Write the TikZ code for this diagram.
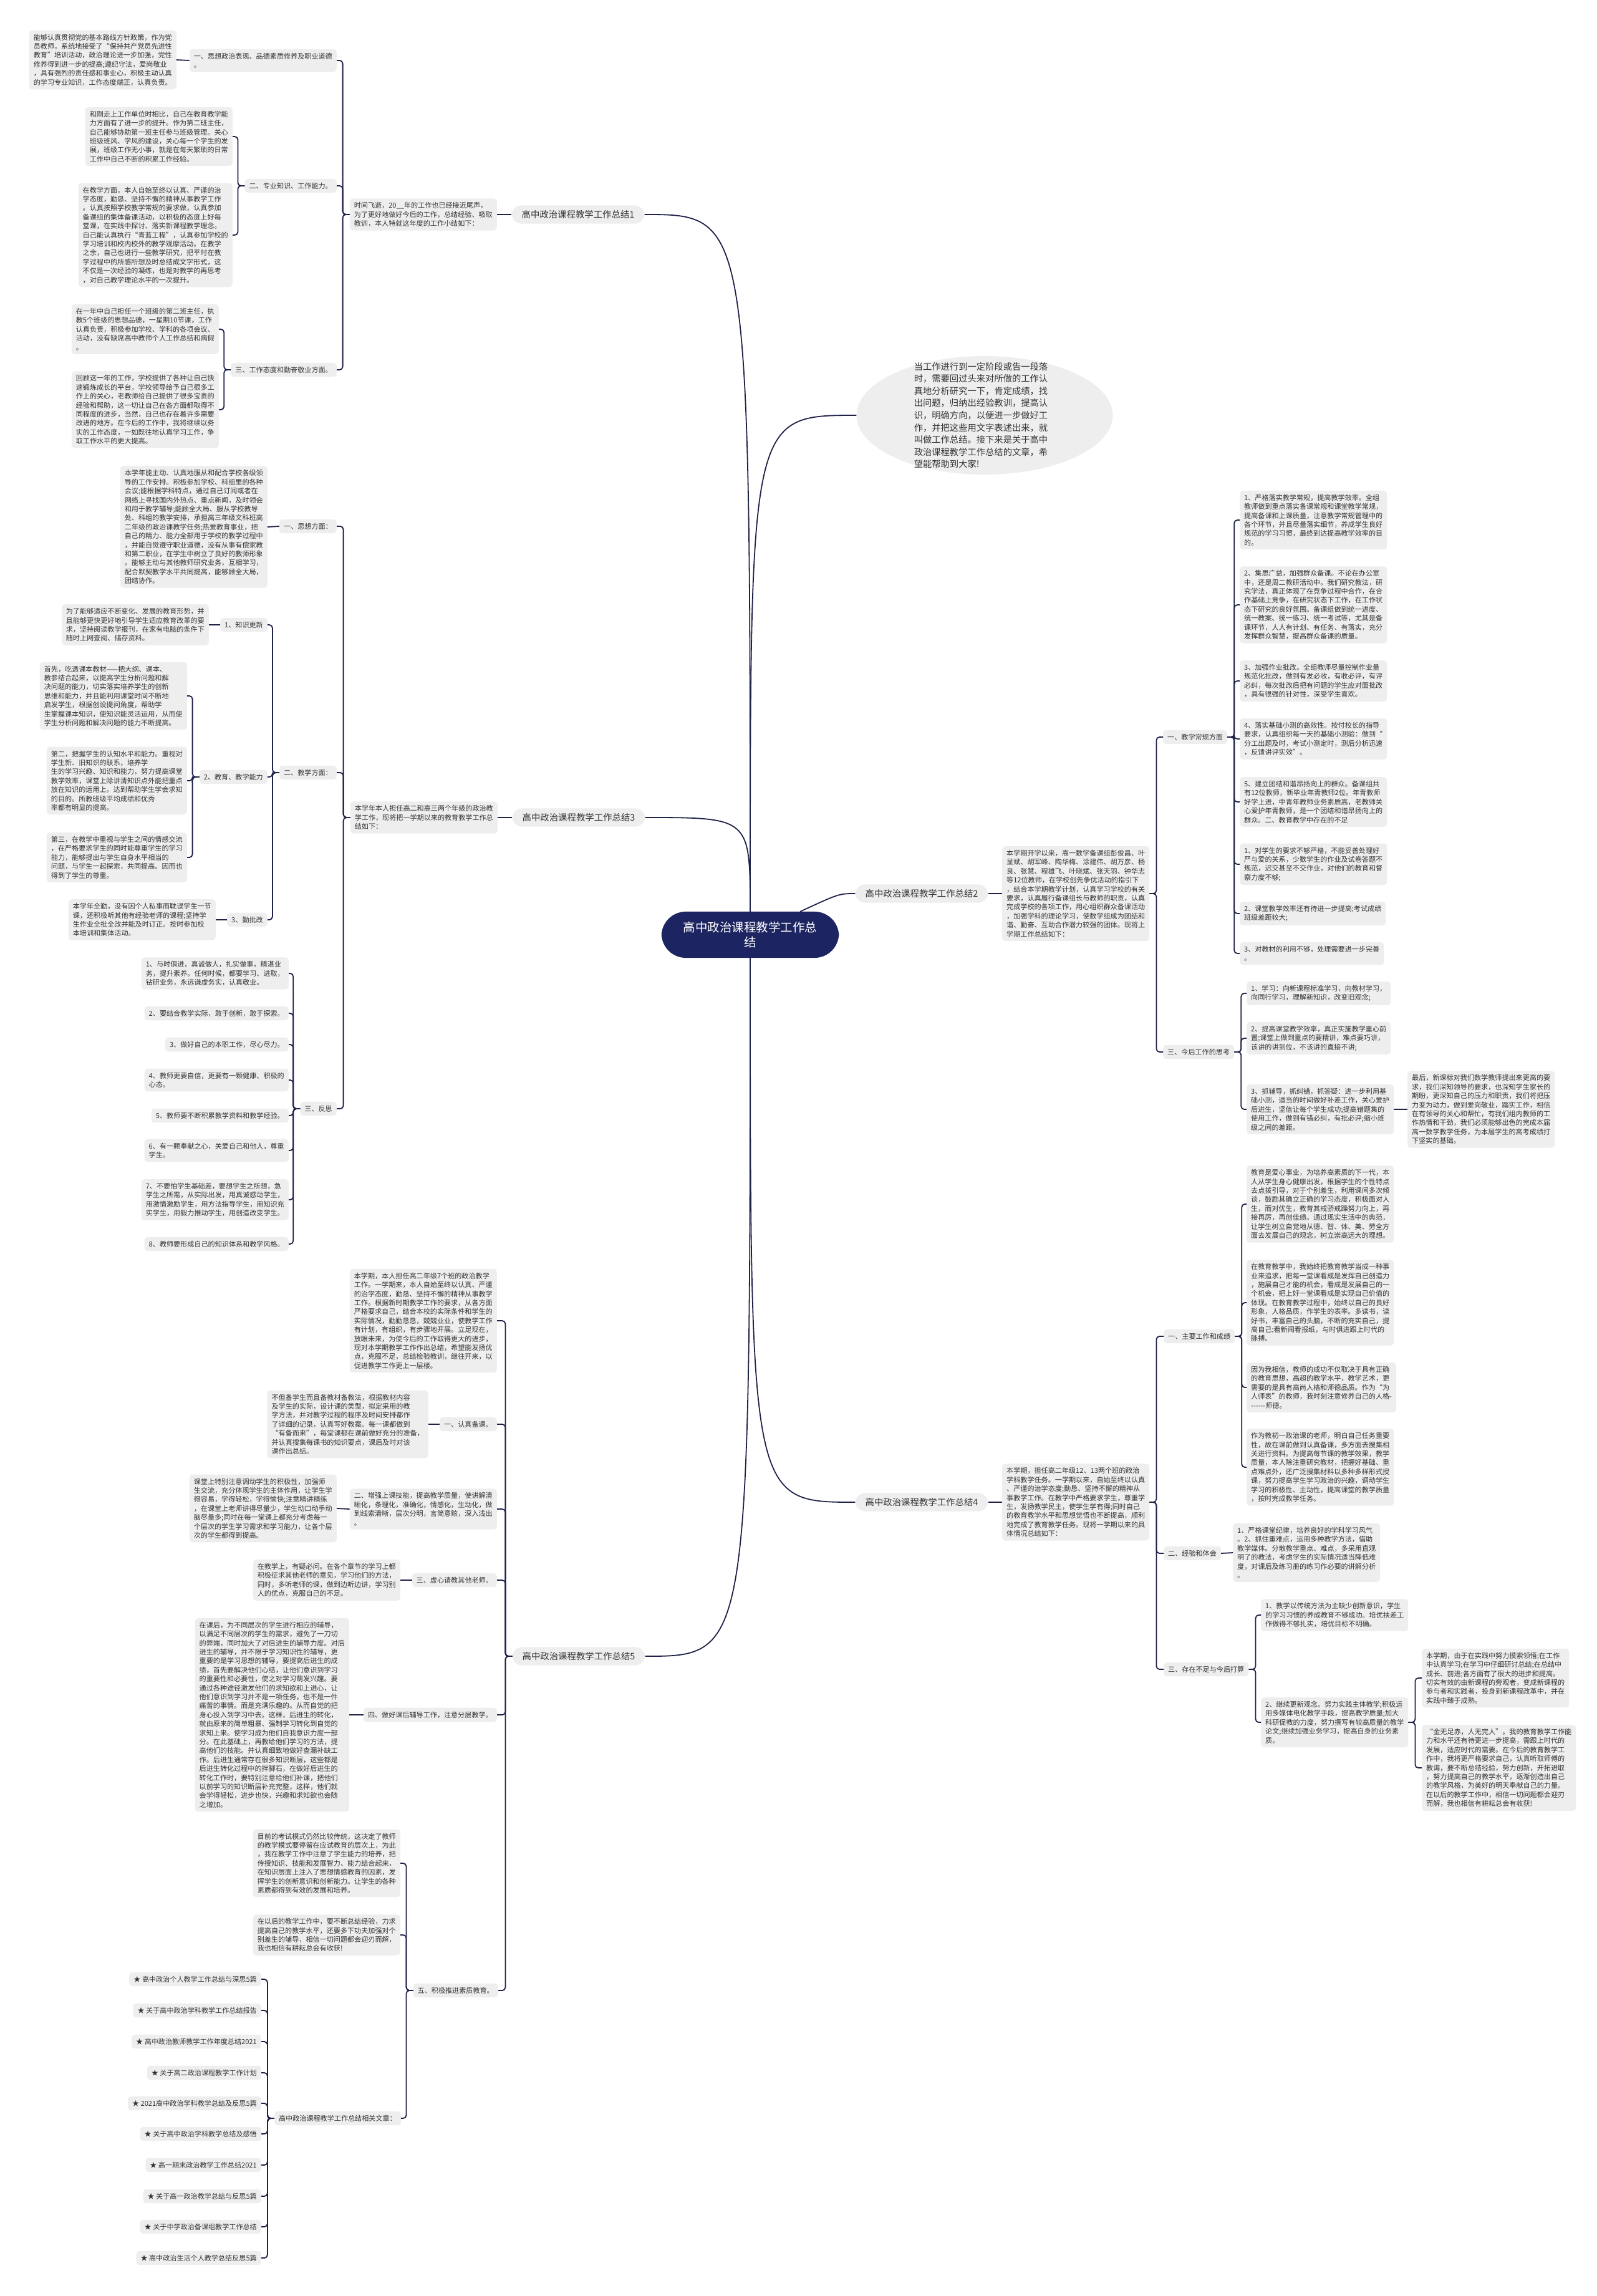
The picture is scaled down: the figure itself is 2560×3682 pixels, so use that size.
\documentclass[tikz,border=0pt]{standalone}
\usepackage{fontspec}
\setmainfont{Noto Sans CJK SC}
\usetikzlibrary{backgrounds, shapes.geometric}

\definecolor{boxgray}{HTML}{EEEEEE}
\definecolor{inkgray}{HTML}{333333}
\definecolor{navy}{HTML}{1C2461}
\definecolor{linecol}{HTML}{1E2148}

\newcommand\leaffont{\fontsize{11.1pt}{14.4pt}\selectfont}
\newcommand\branchfont{\fontsize{14.4pt}{17pt}\selectfont}
\newcommand\introfont{\fontsize{14.3pt}{19.6pt}\selectfont}
\newcommand\rootfont{\fontsize{19.5pt}{24pt}\selectfont}

\begin{document}
\begin{tikzpicture}[x=1pt, y=-1pt,
    leaf/.style={fill=boxgray, rounded corners=5pt, inner xsep=7pt, inner ysep=6pt, align=left, font=\leaffont, text=inkgray},
    leafl/.style={leaf, anchor=east},
    leafr/.style={leaf, anchor=west},
    branch/.style={fill=boxgray, rounded corners=16pt, inner xsep=16pt, inner ysep=8pt, font=\branchfont, text=inkgray},
    rootnode/.style={fill=navy, text=white, rounded corners=39pt, inner xsep=35pt, inner ysep=16pt, align=center, font=\rootfont},
    link/.style={draw=linecol, line width=1.8pt, rounded corners=5pt},
    curve/.style={draw=linecol, line width=1.8pt}]

\fill[white] (0,0) rectangle (2560,3682);
\useasboundingbox (0,0) rectangle (2560,3682);

% root
\node[rootnode] (root) at (1203,1499) {高中政治课程教学工作总\\结};

% intro
\node[fill=boxgray, ellipse, minimum width=411pt, minimum height=190pt, inner sep=0pt] (introbg) at (1579,666) {};
\node[font=\introfont, text=inkgray, align=left] (intro) at (1573,666) {当工作进行到一定阶段或告一段落\\时，需要回过头来对所做的工作认\\真地分析研究一下，肯定成绩，找\\出问题，归纳出经验教训，提高认\\识，明确方向，以便进一步做好工\\作，并把这些用文字表述出来，就\\叫做工作总结。接下来是关于高中\\政治课程教学工作总结的文章，希\\望能帮助到大家!};

% branch nodes
\node[branch] (b1) at (927,344) {高中政治课程教学工作总结1};
\node[branch] (b2) at (1478,1433) {高中政治课程教学工作总结2};
\node[branch] (b3) at (928,1311) {高中政治课程教学工作总结3};
\node[branch] (b4) at (1478,2409) {高中政治课程教学工作总结4};
\node[branch] (b5) at (928,2656) {高中政治课程教学工作总结5};

% ---------- 总结1 ----------
\node[leafl] (s1) at (797,344) {时间飞逝，20\_\_年的工作也已经接近尾声，\\为了更好地做好今后的工作，总结经验、吸取\\教训，本人特就这年度的工作小结如下：};
\node[leafl] (l1a) at (540,97) {一、思想政治表现、品德素质修养及职业道德\\。};
\node[leafl] (t1a) at (283,96) {能够认真贯彻党的基本路线方针政策，作为党\\员教师，系统地接受了“保持共产党员先进性\\教育”培训活动，政治理论进一步加强，党性\\修养得到进一步的提高;遵纪守法，爱岗敬业\\，具有强烈的责任感和事业心，积极主动认真\\的学习专业知识，工作态度端正，认真负责。};
\node[leafl] (l1b) at (540,298) {二、专业知识、工作能力。};
\node[leafl] (t1b1) at (373,219) {和刚走上工作单位时相比，自己在教育教学能\\力方面有了进一步的提升。作为第二班主任，\\自己能够协助第一班主任参与班级管理。关心\\班级班风、学风的建设，关心每一个学生的发\\展，班级工作无小事，就是在每天繁琐的日常\\工作中自己不断的积累工作经验。};
\node[leafl] (t1b2) at (373,377) {在教学方面，本人自始至终以认真、严谨的治\\学态度，勤恳、坚持不懈的精神从事教学工作\\。认真按照学校教学常规的要求做，认真参加\\备课组的集体备课活动，以积极的态度上好每\\堂课，在实践中探讨、落实新课程教学理念。\\自己能认真执行“青蓝工程”，认真参加学校的\\学习培训和校内校外的教学观摩活动。在教学\\之余，自己也进行一些教学研究，把平时在教\\学过程中的所感所想及时总结成文字形式，这\\不仅是一次经验的凝练，也是对教学的再思考\\，对自己教学理论水平的一次提升。};
\node[leafl] (l1c) at (540,593) {三、工作态度和勤奋敬业方面。};
\node[leafl] (t1c1) at (351,528) {在一年中自己担任一个班级的第二班主任，执\\教5个班级的思想品德，一星期10节课，工作\\认真负责，积极参加学校、学科的各项会议、\\活动，没有缺席高中教师个人工作总结和病假\\。};
\node[leafl] (t1c2) at (351,657) {回顾这一年的工作，学校提供了各种让自己快\\速锻炼成长的平台，学校领导给予自己很多工\\作上的关心，老教师给自己提供了很多宝贵的\\经验和帮助，这一切让自己在各方面都取得不\\同程度的进步，当然，自己也存在着许多需要\\改进的地方。在今后的工作中，我将继续以务\\实的工作态度，一如既往地认真学习工作，争\\取工作水平的更大提高。};

\draw[link] (b1.west) -- (s1.east);
\draw[link] (s1.west) -- ++(-11,0) |- (l1a.east);
\draw[link] (s1.west) -- ++(-11,0) |- (l1b.east);
\draw[link] (s1.west) -- ++(-11,0) |- (l1c.east);
\draw[link] (l1a.west) -- (t1a.east);
\draw[link] (l1b.west) -- ++(-11,0) |- (t1b1.east);
\draw[link] (l1b.west) -- ++(-11,0) |- (t1b2.east);
\draw[link] (l1c.west) -- ++(-11,0) |- (t1c1.east);
\draw[link] (l1c.west) -- ++(-11,0) |- (t1c2.east);

% ---------- 总结3 ----------
\node[leafl] (s3) at (798,1311) {本学年本人担任高二和高三两个年级的政治教\\学工作，现将把一学期以来的教育教学工作总\\结如下：};
\node[leafl] (l3a) at (540,844) {一、思想方面：};
\node[leafl] (t3a) at (429,845) {本学年能主动、认真地服从和配合学校各级领\\导的工作安排。积极参加学校、科组里的各种\\会议;能根据学科特点，通过自己订阅或者在\\网络上寻找国内外热点、重点新闻，及时领会\\和用于教学辅导;能顾全大局、服从学校教导\\处、科组的教学安排，承担高三年级文科班高\\二年级的政治课教学任务;热爱教育事业，把\\自己的精力、能力全部用于学校的教学过程中\\，并能自觉遵守职业道德，没有从事有偿家教\\和第二职业，在学生中树立了良好的教师形象\\。能够主动与其他教师研究业务，互相学习，\\配合默契教学水平共同提高，能够顾全大局，\\团结协作。};
\node[leafl] (l3b) at (540,1239) {二、教学方面：};
\node[leafl] (l3b1) at (429,1002) {1、知识更新};
\node[leafl] (t3b1) at (335,1002) {为了能够适应不断变化、发展的教育形势，并\\且能够更快更好地引导学生适应教育改革的要\\求，坚持阅读教学报刊，在家有电脑的条件下\\随时上网查阅、储存资料。};
\node[leafl] (l3b2) at (429,1246) {2、教育、教学能力};
\node[leafl] (t3b2) at (300,1116) {首先，吃透课本教材——把大纲、课本、\\教参结合起来，以提高学生分析问题和解\\决问题的能力，切实落实培养学生的创新\\思维和能力，并且能利用课堂时间不断地\\启发学生，根据创设提问角度，帮助学\\生掌握课本知识，使知识能灵活运用，从而使\\学生分析问题和解决问题的能力不断提高。};
\node[leafl] (t3b3) at (300,1252) {第二，把握学生的认知水平和能力。重视对\\学生新、旧知识的联系，培养学\\生的学习兴趣、知识和能力，努力提高课堂\\教学效率，课堂上除讲清知识点外能把重点\\放在知识的运用上。达到帮助学生学会求知\\的目的。所教班级平均成绩和优秀\\率都有明显的提高。};
\node[leafl] (t3b4) at (300,1375) {第三，在教学中重视与学生之间的情感交流\\，在严格要求学生的同时能尊重学生的学习\\能力，能够提出与学生自身水平相当的\\问题，与学生一起探索，共同提高。因而也\\得到了学生的尊重。};
\node[leafl] (l3b3) at (429,1475) {3、勤批改};
\node[leafl] (t3b5) at (346,1475) {本学年全勤，没有因个人私事而耽误学生一节\\课，还积极听其他有经验老师的课程;坚持学\\生作业全批全改并能及时订正。按时参加校\\本培训和集体活动。};
\node[leafl] (l3c) at (540,1778) {三、反思};
\node[leafl] (t3c1) at (463,1561) {1、与时俱进，真诚做人，扎实做事，精湛业\\务，提升素养。任何时候，都要学习、进取，\\钻研业务，永远谦虚务实，认真敬业。};
\node[leafl] (t3c2) at (463,1625) {2、要结合教学实际，敢于创新，敢于探索。};
\node[leafl] (t3c3) at (463,1675) {3、做好自己的本职工作，尽心尽力。};
\node[leafl] (t3c4) at (463,1732) {4、教师更要自信，更要有一颗健康、积极的\\心态。};
\node[leafl] (t3c5) at (463,1789) {5、教师要不断积累教学资料和教学经验。};
\node[leafl] (t3c6) at (463,1845) {6、有一颗奉献之心，关爱自己和他人，尊重\\学生。};
\node[leafl] (t3c7) at (463,1924) {7、不要怕学生基础差，要想学生之所想，急\\学生之所需，从实际出发，用真诚感动学生，\\用激情激励学生，用方法指导学生，用知识充\\实学生，用毅力推动学生，用创造改变学生。};
\node[leafl] (t3c8) at (463,1995) {8、教师要形成自己的知识体系和教学风格。};

\draw[link] (b3.west) -- (s3.east);
\draw[link] (s3.west) -- ++(-11,0) |- (l3a.east);
\draw[link] (s3.west) -- ++(-11,0) |- (l3b.east);
\draw[link] (s3.west) -- ++(-11,0) |- (l3c.east);
\draw[link] (l3a.west) -- (t3a.east);
\draw[link] (l3b.west) -- ++(-11,0) |- (l3b1.east);
\draw[link] (l3b.west) -- ++(-11,0) |- (l3b2.east);
\draw[link] (l3b.west) -- ++(-11,0) |- (l3b3.east);
\draw[link] (l3b1.west) -- (t3b1.east);
\draw[link] (l3b2.west) -- ++(-11,0) |- (t3b2.east);
\draw[link] (l3b2.west) -- ++(-11,0) |- (t3b3.east);
\draw[link] (l3b2.west) -- ++(-11,0) |- (t3b4.east);
\draw[link] (l3b3.west) -- (t3b5.east);
\foreach \k in {1,...,8}
  \draw[link] (l3c.west) -- ++(-11,0) |- (t3c\k.east);

% ---------- 总结5 ----------
\node[leafl] (s5) at (797,2118) {本学期，本人担任高二年级7个班的政治教学\\工作。一学期来，本人自始至终以认真、严谨\\的治学态度，勤恳、坚持不懈的精神从事教学\\工作。根据新时期教学工作的要求，从各方面\\严格要求自己，结合本校的实际条件和学生的\\实际情况，勤勤恳恳，兢兢业业，使教学工作\\有计划，有组织，有步骤地开展。立足现在，\\放眼未来，为使今后的工作取得更大的进步，\\现对本学期教学工作作出总结，希望能发扬优\\点，克服不足，总结检验教训，继往开来，以\\促进教学工作更上一层楼。};
\node[leafl] (l5a) at (797,2284) {一、认真备课。};
\node[leafl] (t5a) at (687,2284) {不但备学生而且备教材备教法，根据教材内容\\及学生的实际，设计课的类型，拟定采用的教\\学方法，并对教学过程的程序及时间安排都作\\了详细的记录，认真写好教案。每一课都做到\\“有备而来”，每堂课都在课前做好充分的准备，\\并认真搜集每课书的知识要点，课后及时对该\\课作出总结。};
\node[leafl] (l5b) at (797,2420) {二、增强上课技能，提高教学质量，使讲解清\\晰化，条理化，准确化，情感化，生动化，做\\到线索清晰，层次分明，言简意赅，深入浅出\\。};
\node[leafl] (t5b) at (540,2419) {课堂上特别注意调动学生的积极性，加强师\\生交流，充分体现学生的主体作用，让学生学\\得容易，学得轻松，学得愉快;注意精讲精练\\，在课堂上老师讲得尽量少，学生动口动手动\\脑尽量多;同时在每一堂课上都充分考虑每一\\个层次的学生学习需求和学习能力，让各个层\\次的学生都得到提高。};
\node[leafl] (l5c) at (797,2534) {三、虚心请教其他老师。};
\node[leafl] (t5c) at (642,2534) {在教学上，有疑必问。在各个章节的学习上都\\积极征求其他老师的意见，学习他们的方法，\\同时，多听老师的课，做到边听边讲，学习别\\人的优点，克服自己的不足。};
\node[leafl] (l5d) at (797,2750) {四、做好课后辅导工作，注意分层教学。};
\node[leafl] (t5d) at (560,2750) {在课后，为不同层次的学生进行相应的辅导，\\以满足不同层次的学生的需求，避免了一刀切\\的弊端，同时加大了对后进生的辅导力度。对后\\进生的辅导，并不限于学习知识性的辅导，更\\重要的是学习思想的辅导，要提高后进生的成\\绩，首先要解决他们心结，让他们意识到学习\\的重要性和必要性，使之对学习萌发兴趣。要\\通过各种途径激发他们的求知欲和上进心，让\\他们意识到学习并不是一项任务，也不是一件\\痛苦的事情。而是充满乐趣的。从而自觉的把\\身心投入到学习中去。这样，后进生的转化，\\就由原来的简单粗暴、强制学习转化到自觉的\\求知上来。使学习成为他们自我意识力度一部\\分。在此基础上，再教给他们学习的方法，提\\高他们的技能。并认真细致地做好查漏补缺工\\作。后进生通常存在很多知识断层，这些都是\\后进生转化过程中的拌脚石，在做好后进生的\\转化工作时，要特别注意给他们补课，把他们\\以前学习的知识断层补充完整，这样，他们就\\会学得轻松，进步也快，兴趣和求知欲也会随\\之增加。};
\node[leafl] (l5e) at (799,3192) {五、积极推进素质教育。};
\node[leafl] (t5e1) at (642,2988) {目前的考试模式仍然比较传统，这决定了教师\\的教学模式要停留在应试教育的层次上，为此\\，我在教学工作中注意了学生能力的培养，把\\传授知识、技能和发展智力、能力结合起来，\\在知识层面上注入了思想情感教育的因素，发\\挥学生的创新意识和创新能力。让学生的各种\\素质都得到有效的发展和培养。};
\node[leafl] (t5e2) at (642,3103) {在以后的教学工作中，要不断总结经验，力求\\提高自己的教学水平，还要多下功夫加强对个\\别差生的辅导，相信一切问题都会迎刃而解，\\我也相信有耕耘总会有收获!};
\node[leafl] (rel) at (643,3397) {高中政治课程教学工作总结相关文章：};
\node[leafl] (r1) at (419,3174) {★ 高中政治个人教学工作总结与深思5篇};
\node[leafl] (r2) at (419,3224) {★ 关于高中政治学科教学工作总结报告};
\node[leafl] (r3) at (419,3274) {★ 高中政治教师教学工作年度总结2021};
\node[leafl] (r4) at (419,3324) {★ 关于高二政治课程教学工作计划};
\node[leafl] (r5) at (419,3373) {★ 2021高中政治学科教学总结及反思5篇};
\node[leafl] (r6) at (419,3422) {★ 关于高中政治学科教学总结及感悟};
\node[leafl] (r7) at (419,3472) {★ 高一期末政治教学工作总结2021};
\node[leafl] (r8) at (419,3522) {★ 关于高一政治教学总结与反思5篇};
\node[leafl] (r9) at (419,3571) {★ 关于中学政治备课组教学工作总结};
\node[leafl] (r10) at (419,3621) {★ 高中政治生活个人教学总结反思5篇};

\foreach \c in {s5,l5a,l5b,l5c,l5d,l5e}
  \draw[link] (b5.west) -- ++(-11,0) |- (\c.east);
\draw[link] (l5a.west) -- (t5a.east);
\draw[link] (l5b.west) -- (t5b.east);
\draw[link] (l5c.west) -- (t5c.east);
\draw[link] (l5d.west) -- (t5d.east);
\foreach \c in {t5e1,t5e2,rel}
  \draw[link] (l5e.west) -- ++(-11,0) |- (\c.east);
\foreach \k in {1,...,10}
  \draw[link] (rel.west) -- ++(-11,0) |- (r\k.east);

% ---------- 总结2 ----------
\node[leafr] (s2) at (1607,1433) {本学期开学以来，高一数学备课组彭俊昌、叶\\显斌、胡军峰、陶华梅、涂建伟、胡万彦、杨\\良、张慧、程雄飞、叶晓斌、张天羽、钟华志\\等12位教师，在学校创先争优活动的指引下\\，结合本学期教学计划，认真学习学校的有关\\要求，认真履行备课组长与教师的职责，认真\\完成学校的各项工作，用心组织群众备课活动\\，加强学科的理论学习，使数学组成为团结和\\谐、勤奋、互助合作潜力较强的团体。现将上\\学期工作总结如下：};
\node[leafr] (l2a) at (1865,1182) {一、教学常规方面};
\node[leafr] (t2a1) at (1988,834) {1、严格落实教学常规，提高教学效率。全组\\教师做到重点落实备课常规和课堂教学常规，\\提高备课和上课质量，注意教学常规管理中的\\各个环节，并且尽量落实细节，养成学生良好\\规范的学习习惯，最终到达提高教学效率的目\\的。};
\node[leafr] (t2a2) at (1988,970) {2、集思广益，加强群众备课。不论在办公室\\中，还是周二教研活动中。我们研究教法，研\\究学法，真正体现了在竞争过程中合作，在合\\作基础上竞争，在研究状态下工作，在工作状\\态下研究的良好氛围。备课组做到统一进度、\\统一教案、统一练习、统一考试等，尤其是备\\课环节，人人有计划、有任务、有落实，充分\\发挥群众智慧，提高群众备课的质量。};
\node[leafr] (t2a3) at (1988,1092) {3、加强作业批改。全组教师尽量控制作业量\\规范化批改，做到有发必收，有收必评，有评\\必纠，每次批改后把有问题的学生应对面批改\\，具有很强的针对性，深受学生喜欢。};
\node[leafr] (t2a4) at (1988,1185) {4、落实基础小测的高效性。按付校长的指导\\要求，认真组织每一天的基础小测验：做到“\\分工出题及时，考试小测定时，测后分析迅速\\，反馈讲评实效”。};
\node[leafr] (t2a5) at (1988,1286) {5、建立团结和谐昂扬向上的群众。备课组共\\有12位教师，新毕业年青教师2位。年青教师\\好学上进，中青年教师业务素质高，老教师关\\心爱护年青教师，是一个团结和谐昂扬向上的\\群众。二、教育教学中存在的不足};
\node[leafr] (t2a6) at (1988,1386) {1、对学生的要求不够严格，不能妥善处理好\\严与爱的关系，少数学生的作业及试卷答题不\\规范，迟交甚至不交作业，对他们的教育和督\\察力度不够;};
\node[leafr] (t2a7) at (1988,1465) {2、课堂教学效率还有待进一步提高;考试成绩\\班级差距较大;};
\node[leafr] (t2a8) at (1988,1529) {3、对教材的利用不够，处理需要进一步完善\\。};
\node[leafr] (l2c) at (1865,1687) {三、今后工作的思考};
\node[leafr] (t2c1) at (1999,1593) {1、学习：向新课程标准学习，向教材学习，\\向同行学习，理解新知识，改变旧观念;};
\node[leafr] (t2c2) at (1999,1665) {2、提高课堂教学效率，真正实施教学重心前\\置;课堂上做到重点的要精讲，难点要巧讲，\\该讲的讲到位，不该讲的直接不讲;};
\node[leafr] (t2c3) at (1999,1779) {3、抓辅导，抓纠错，抓答疑：进一步利用基\\础小测，适当的时间做好补差工作，关心爱护\\后进生，坚信让每个学生成功;提高错题集的\\使用工作，做到有错必纠，有批必评;缩小班\\级之间的差距。};
\node[leafr] (t2c3a) at (2257,1779) {最后，新课标对我们数学教师提出来更高的要\\求，我们深知领导的要求，也深知学生家长的\\期盼，更深知自己的压力和职责，我们将把压\\力变为动力，做到爱岗敬业，踏实工作，相信\\在有领导的关心和帮忙，有我们组内教师的工\\作热情和干劲，我们必须能够出色的完成本届\\高一数学教学任务，为本届学生的高考成绩打\\下坚实的基础。};

\draw[link] (b2.east) -- (s2.west);
\draw[link] (s2.east) -- ++(11,0) |- (l2a.west);
\draw[link] (s2.east) -- ++(11,0) |- (l2c.west);
\foreach \k in {1,...,8}
  \draw[link] (l2a.east) -- ++(11,0) |- (t2a\k.west);
\foreach \k in {1,2,3}
  \draw[link] (l2c.east) -- ++(11,0) |- (t2c\k.west);
\draw[link] (t2c3.east) -- (t2c3a.west);

% ---------- 总结4 ----------
\node[leafr] (s4) at (1607,2409) {本学期，担任高二年级12、13两个班的政治\\学科教学任务。一学期以来，自始至终以认真\\、严谨的治学态度;勤恳、坚持不懈的精神从\\事教学工作。在教学中严格要求学生，尊重学\\生，发扬教学民主，使学生学有得;同时自己\\的教育教学水平和思想觉悟也不断提高，顺利\\地完成了教育教学任务。现将一学期以来的具\\体情况总结如下：};
\node[leafr] (l4a) at (1866,2143) {一、主要工作和成绩};
\node[leafr] (t4a1) at (1999,1931) {教育是爱心事业，为培养高素质的下一代，本\\人从学生身心健康出发，根据学生的个性特点\\去点拨引导，对于个别差生，利用课间多次倾\\谈，鼓励其确立正确的学习态度，积极面对人\\生，而对优生，教育其戒骄戒躁努力向上，再\\接再厉，再创佳绩。通过现实生活中的典范，\\让学生树立自觉地从德、智、体、美、劳全方\\面去发展自己的观念，树立崇高远大的理想。};
\node[leafr] (t4a2) at (1999,2089) {在教育教学中，我始终把教育教学当成一种事\\业来追求，把每一堂课看成是发挥自己创造力\\，施展自己才能的机会，看成是发展自己的一\\个机会，把上好一堂课看成是实现自己价值的\\体现。在教育教学过程中，始终以自己的良好\\形象，人格品质，作学生的表率。多读书，读\\好书，丰富自己的头脑，不断的充实自己，提\\高自己;看新闻看报纸，与时俱进跟上时代的\\脉搏。};
\node[leafr] (t4a3) at (1999,2225) {因为我相信，教师的成功不仅取决于具有正确\\的教育思想，高超的教学水平，教学艺术，更\\需要的是具有高尚人格和师德品质。作为“为\\人师表”的教师，我时刻注意修养自己的人格-\\-{}-{}-{}-{}-{}-师德。};
\node[leafr] (t4a4) at (1999,2353) {作为教初一政治课的老师，明白自己任务重要\\性，故在课前做到认真备课，多方面去搜集相\\关进行资料。为提高每节课的教学效果，教学\\质量，本人除注重研究教材，把握好基础、重\\点难点外，还广泛搜集材料以多种多样形式授\\课，努力提高学生学习政治的兴趣，调动学生\\学习的积极性、主动性，提高课堂的教学质量\\，按时完成教学任务。};
\node[leafr] (l4b) at (1866,2491) {二、经验和体会};
\node[leafr] (t4b) at (1977,2490) {1、严格课堂纪律，培养良好的学科学习风气\\。2、抓住重难点，运用多种教学方法，借助\\教学媒体。分散教学重点、难点，多采用直观\\明了的教法，考虑学生的实际情况适当降低难\\度，对课后及练习册的练习作必要的讲解分析\\。};
\node[leafr] (l4c) at (1866,2677) {三、存在不足与今后打算};
\node[leafr] (t4c1) at (2022,2590) {1、教学以传统方法为主缺少创新意识，学生\\的学习习惯的养成教育不够成功。培优扶差工\\作做得不够扎实，培优目标不明确。};
\node[leafr] (t4c2) at (2022,2762) {2、继续更新观念。努力实践主体教学;积极运\\用多媒体电化教学手段，提高教学质量;加大\\科研促教的力度，努力撰写有较高质量的教学\\论文;继续加强业务学习，提高自身的业务素\\质。};
\node[leafr] (t4c2a) at (2280,2691) {本学期，由于在实践中努力摸索领悟;在工作\\中认真学习;在学习中仔细研讨总结;在总结中\\成长、前进;各方面有了很大的进步和提高。\\切实有效的由新课程的旁观者，变成新课程的\\参与者和实践者，投身到新课程改革中，并在\\实践中臻于成熟。};
\node[leafr] (t4c2b) at (2280,2835) {“金无足赤，人无完人”。我的教育教学工作能\\力和水平还有待更进一步提高，需跟上时代的\\发展，适应时代的需要。在今后的教育教学工\\作中，我将更严格要求自己，认真听取师傅的\\教诲，要不断总结经验，努力创新，开拓进取\\，努力提高自己的教学水平，逐渐创造出自己\\的教学风格，为美好的明天奉献自己的力量。\\在以后的教学工作中，相信一切问题都会迎刃\\而解，我也相信有耕耘总会有收获!};

\draw[link] (b4.east) -- (s4.west);
\foreach \c in {l4a,l4b,l4c}
  \draw[link] (s4.east) -- ++(11,0) |- (\c.west);
\foreach \k in {1,...,4}
  \draw[link] (l4a.east) -- ++(11,0) |- (t4a\k.west);
\draw[link] (l4b.east) -- (t4b.west);
\draw[link] (l4c.east) -- ++(11,0) |- (t4c1.west);
\draw[link] (l4c.east) -- ++(11,0) |- (t4c2.west);
\draw[link] (t4c2.east) -- ++(11,0) |- (t4c2a.west);
\draw[link] (t4c2.east) -- ++(11,0) |- (t4c2b.west);

% curves from the root
\draw[curve] (root) .. controls (root |- b1.east) .. (b1.east);
\draw[curve] (root) .. controls (root |- b3.east) .. (b3.east);
\draw[curve] (root) .. controls (root |- b5.east) .. (b5.east);
\draw[curve] (root) .. controls (root |- introbg.west) .. (introbg.west);
\draw[curve] (root) .. controls (b2.west -| root.east) .. (b2.west);
\draw[curve] (root) .. controls (root |- b4.west) .. (b4.west);
\end{tikzpicture}
\end{document}
